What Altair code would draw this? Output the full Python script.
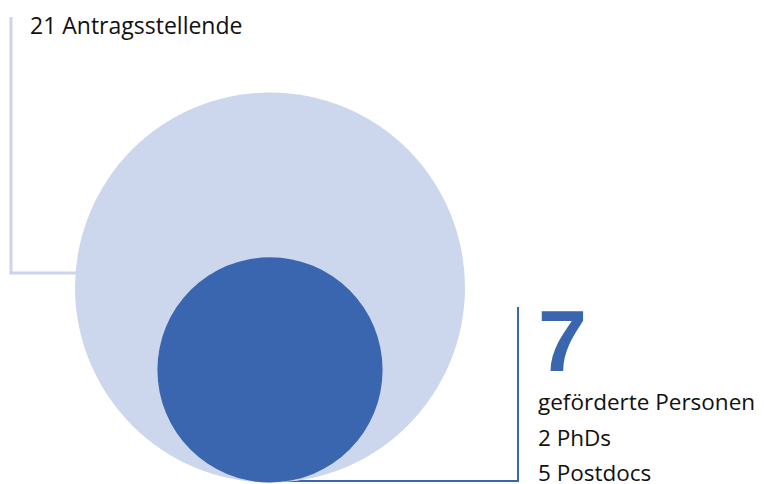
import math
import altair as alt
import pandas as pd

# ---- data ----
groups = ["Antragsstellende", "geförderte Personen"]
counts = [21, 7]
circle_colors = ["#CCD7EE", "#3A66B0"]
phds = 2
postdocs = 5

label_applicants = f"{counts[0]} Antragsstellende"
label_big = f"{counts[1]}"
label_lines = ["geförderte Personen", f"{phds} PhDs", f"{postdocs} Postdocs"]

# ---- layout (page pixel coordinates) ----
W, H = 750, 476
OFF = 8
MAX_R = 195.0
CX = 270.0
BOTTOM = 482.5
# Vega circle symbol: radius = sqrt(size) / 2
MAX_SIZE = (2 * MAX_R) ** 2

circ = pd.DataFrame({"group": groups, "count": counts, "color": circle_colors})
circ["r"] = (circ["count"] / max(counts)).pow(0.5) * MAX_R
circ["x"] = CX
circ["y"] = BOTTOM - circ["r"]

xs = alt.Scale(domain=[OFF, OFF + W], range=[0, W], nice=False, zero=False)
ys = alt.Scale(domain=[OFF, OFF + H], range=[0, H], nice=False, zero=False)
X = lambda f: alt.X(f, type="quantitative", scale=xs, axis=None)
Y = lambda f: alt.Y(f, type="quantitative", scale=ys, axis=None)

lines = pd.DataFrame({
    "line": ["a", "a", "a", "b", "b", "b"],
    "o": [0, 1, 2, 0, 1, 2],
    "x": [11, 11, 80, 518, 518, 270],
    "y": [17, 273, 273, 307, 481, 481],
})

light_line = alt.Chart(lines[lines.line == "a"]).mark_line(
    color="#CDD5EC", strokeWidth=3, strokeCap="butt", strokeJoin="miter"
).encode(x=X("x"), y=Y("y"), order="o:Q")
dark_line = alt.Chart(lines[lines.line == "b"]).mark_line(
    color="#3A66B0", strokeWidth=2, strokeCap="butt", strokeJoin="miter"
).encode(x=X("x"), y=Y("y"), order="o:Q")

circles = alt.Chart(circ).mark_circle(opacity=1, strokeWidth=0).encode(
    x=X("x"),
    y=Y("y"),
    size=alt.Size("count:Q", scale=alt.Scale(domain=[0, max(counts)], range=[0, MAX_SIZE], zero=True, nice=False), legend=None),
    color=alt.Color("color:N", scale=None),
    order=alt.Order("r:Q", sort="descending"),
)

top_text = alt.Chart(pd.DataFrame({"t": [label_applicants], "x": [30], "y": [34]})).mark_text(
    align="left", baseline="alphabetic", font="Open Sans", fontSize=23, color="#111111"
).encode(x=X("x"), y=Y("y"), text="t:N")

txt = pd.DataFrame({
    "t": label_lines,
    "x": [538, 538, 538],
    "y": [410, 446, 481],
})
texts = alt.Chart(txt).mark_text(
    align="left", baseline="alphabetic", font="Open Sans", fontSize=22.5, color="#111111"
).encode(x=X("x"), y=Y("y"), text="t:N")

big = alt.Chart(pd.DataFrame({"t": [label_big], "x": [538], "y": [371]})).mark_text(
    align="left", baseline="alphabetic", font="Liberation Sans", fontWeight="bold",
    fontSize=88, color="#3A66B0"
).encode(x=X("x"), y=Y("y"), text="t:N")

chart = alt.layer(light_line, dark_line, circles, top_text, texts, big).properties(
    width=W, height=H, autosize=alt.AutoSizeParams(type="none"), padding=0
).configure_view(stroke=None)

chart.save("out.html", embed_options={"renderer": "svg", "actions": False})
